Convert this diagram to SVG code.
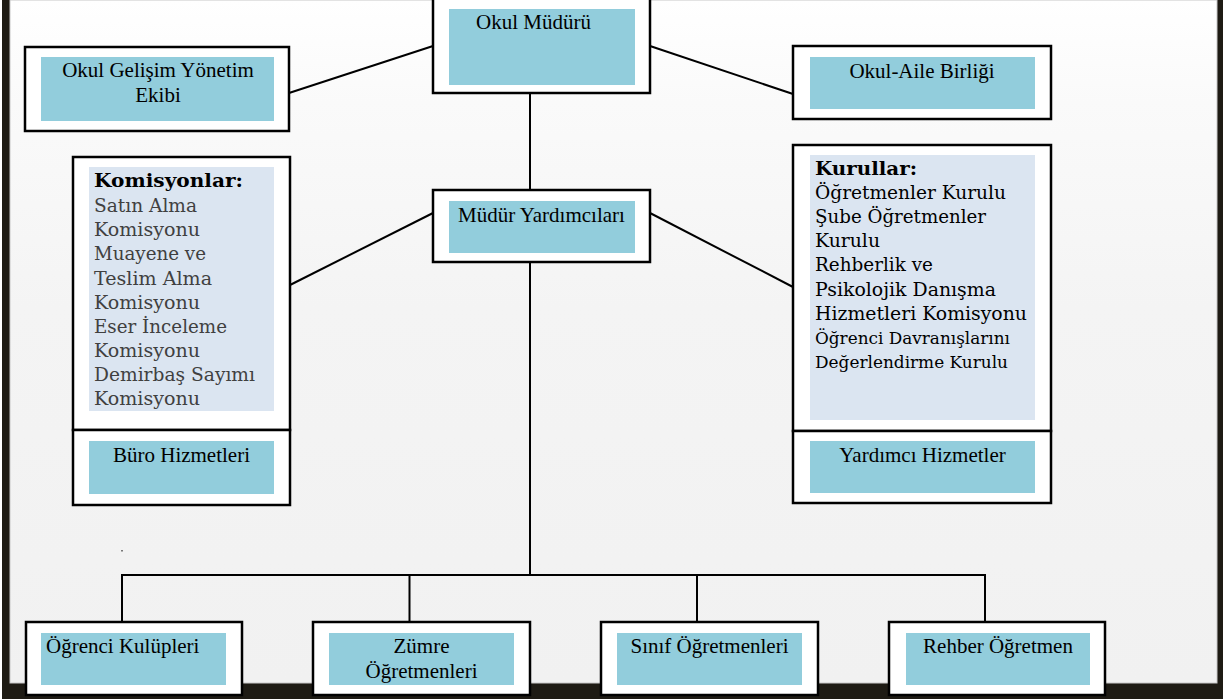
<svg xmlns="http://www.w3.org/2000/svg" width="1223" height="699" viewBox="0 0 1223 699">
<defs>
<linearGradient id="bg" x1="0" y1="0" x2="0" y2="1">
<stop offset="0" stop-color="#ffffff"/>
<stop offset="0.15" stop-color="#fafafa"/>
<stop offset="0.45" stop-color="#f4f4f4"/>
<stop offset="1" stop-color="#f1f1f1"/>
</linearGradient>
<style>
.frame{fill:#ffffff;stroke:#000;stroke-width:2.5}
.teal{fill:#92cddc}
.pale{fill:#dbe5f1}
.lbl{font-family:"Liberation Serif","Times New Roman",serif;font-size:21px;fill:#000}
.mid{text-anchor:middle}
.list{font-family:"DejaVu Serif","Liberation Serif",serif;font-size:18.5px}
.gray{fill:#404040}
.blk{fill:#000}
.hdr{font-weight:bold;fill:#000}
.conn{stroke:#000;stroke-width:2;fill:none}
</style>
</defs>
<rect x="0" y="0" width="1223" height="699" fill="#ffffff"/>
<rect x="2" y="0" width="1221" height="699" fill="#1e1b14"/>
<rect x="10" y="0" width="1207" height="683" fill="url(#bg)" stroke="#c8c8c8" stroke-width="1"/>
<rect x="121.5" y="550" width="1" height="1.5" fill="#000"/>

<g id="connectors">
<line class="conn" x1="433" y1="46" x2="289" y2="93"/>
<line class="conn" x1="650" y1="46" x2="793" y2="94"/>
<line class="conn" x1="530" y1="93" x2="530" y2="190"/>
<line class="conn" x1="433" y1="213" x2="290" y2="285"/>
<line class="conn" x1="650" y1="213" x2="793" y2="287"/>
<line class="conn" x1="530" y1="262" x2="530" y2="575"/>
<polyline class="conn" points="122,622 122,575 985,575 985,622"/>
<line class="conn" x1="409.5" y1="575" x2="409.5" y2="622"/>
<line class="conn" x1="697" y1="575" x2="697" y2="622"/>
</g>

<g id="okul-muduru">
<rect class="frame" x="433" y="-5" width="217" height="98"/>
<rect class="teal" x="449" y="9" width="186" height="76"/>
<text class="lbl mid" x="533.5" y="29">Okul Müdürü</text>
</g>

<g id="okul-gelisim">
<rect class="frame" x="25" y="47" width="264" height="84"/>
<rect class="teal" x="41" y="57" width="233" height="64"/>
<text class="lbl mid" x="158" y="77">Okul Gelişim Yönetim</text>
<text class="lbl mid" x="158" y="102">Ekibi</text>
</g>

<g id="okul-aile">
<rect class="frame" x="793" y="46" width="258" height="73"/>
<rect class="teal" x="810" y="57" width="225" height="52"/>
<text class="lbl mid" x="922" y="78">Okul-Aile Birliği</text>
</g>

<g id="mudur-yardimcilari">
<rect class="frame" x="433" y="190" width="217" height="72"/>
<rect class="teal" x="449" y="201" width="186" height="52"/>
<text class="lbl mid" x="541.5" y="222">Müdür Yardımcıları</text>
</g>

<g id="komisyonlar">
<rect class="frame" x="73" y="157" width="217" height="273"/>
<rect class="pale" x="89" y="167" width="185" height="244"/>
<g class="list">
<text class="hdr" x="94" y="187" textLength="149" lengthAdjust="spacingAndGlyphs">Komisyonlar:</text>
<text class="gray" x="94" y="212" textLength="103" lengthAdjust="spacingAndGlyphs">Satın Alma</text>
<text class="gray" x="94" y="236" textLength="106" lengthAdjust="spacingAndGlyphs">Komisyonu</text>
<text class="gray" x="94" y="260" textLength="112" lengthAdjust="spacingAndGlyphs">Muayene ve</text>
<text class="gray" x="94" y="284.5" textLength="118" lengthAdjust="spacingAndGlyphs">Teslim Alma</text>
<text class="gray" x="94" y="308.5" textLength="106" lengthAdjust="spacingAndGlyphs">Komisyonu</text>
<text class="gray" x="94" y="333" textLength="133" lengthAdjust="spacingAndGlyphs">Eser İnceleme</text>
<text class="gray" x="94" y="357" textLength="106" lengthAdjust="spacingAndGlyphs">Komisyonu</text>
<text class="gray" x="94" y="381" textLength="161" lengthAdjust="spacingAndGlyphs">Demirbaş Sayımı</text>
<text class="gray" x="94" y="405" textLength="106" lengthAdjust="spacingAndGlyphs">Komisyonu</text>
</g>
</g>

<g id="buro-hizmetleri">
<rect class="frame" x="73" y="430" width="217" height="75"/>
<rect class="teal" x="89" y="441" width="185" height="53"/>
<text class="lbl mid" x="181.5" y="462">Büro Hizmetleri</text>
</g>

<g id="kurullar">
<rect class="frame" x="793" y="145" width="258" height="286"/>
<rect class="pale" x="810" y="155" width="225" height="265"/>
<g class="list">
<text class="hdr" x="815" y="175" textLength="102" lengthAdjust="spacingAndGlyphs">Kurullar:</text>
<text class="blk" x="815" y="199" textLength="191" lengthAdjust="spacingAndGlyphs">Öğretmenler Kurulu</text>
<text class="blk" x="815" y="223" textLength="171" lengthAdjust="spacingAndGlyphs">Şube Öğretmenler</text>
<text class="blk" x="815" y="247" textLength="65" lengthAdjust="spacingAndGlyphs">Kurulu</text>
<text class="blk" x="815" y="271" textLength="118" lengthAdjust="spacingAndGlyphs">Rehberlik ve</text>
<text class="blk" x="815" y="296" textLength="181" lengthAdjust="spacingAndGlyphs">Psikolojik Danışma</text>
<text class="blk" x="815" y="320" textLength="212" lengthAdjust="spacingAndGlyphs">Hizmetleri Komisyonu</text>
<text class="blk" x="815" y="344" font-size="16.5" textLength="195" lengthAdjust="spacingAndGlyphs">Öğrenci Davranışlarını</text>
<text class="blk" x="815" y="368" font-size="16.5" textLength="193" lengthAdjust="spacingAndGlyphs">Değerlendirme Kurulu</text>
</g>
</g>

<g id="yardimci-hizmetler">
<rect class="frame" x="793" y="431" width="258" height="72"/>
<rect class="teal" x="810" y="441" width="225" height="52"/>
<text class="lbl mid" x="922.5" y="462">Yardımcı Hizmetler</text>
</g>

<g id="ogrenci-kulupleri">
<rect class="frame" x="26" y="622" width="216" height="73"/>
<rect class="teal" x="41" y="633" width="185" height="52"/>
<text class="lbl" x="46" y="653">Öğrenci Kulüpleri</text>
</g>

<g id="zumre-ogretmenleri">
<rect class="frame" x="313" y="622" width="217" height="73"/>
<rect class="teal" x="329" y="633" width="185" height="52"/>
<text class="lbl mid" x="421.5" y="653">Zümre</text>
<text class="lbl mid" x="421.5" y="678">Öğretmenleri</text>
</g>

<g id="sinif-ogretmenleri">
<rect class="frame" x="601" y="622" width="217" height="73"/>
<rect class="teal" x="617" y="633" width="185" height="52"/>
<text class="lbl mid" x="709.5" y="653">Sınıf Öğretmenleri</text>
</g>

<g id="rehber-ogretmen">
<rect class="frame" x="889" y="622" width="216" height="73"/>
<rect class="teal" x="906" y="633" width="184" height="52"/>
<text class="lbl mid" x="998" y="653">Rehber Öğretmen</text>
</g>
</svg>
